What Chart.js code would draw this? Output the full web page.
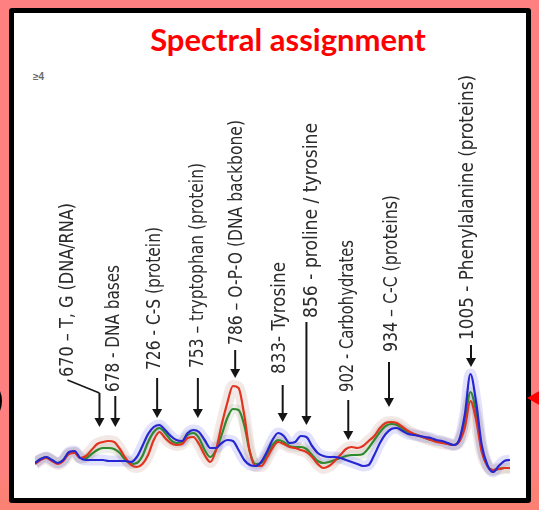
<!DOCTYPE html>
<html lang="en">
<head>
  <meta charset="UTF-8" />
  <title>Spectral assignment</title>
  <style>
    html, body {
      margin: 0;
      padding: 0;
      width: 539px;
      height: 510px;
      overflow: hidden;
      background: linear-gradient(#ff8080 0, #ff8080 470px, #fb8175 490px, #fb8175 510px);
      font-family: Lato, Arial, sans-serif;
    }
    .frame {
      position: absolute;
      left: 9px;
      top: 8px;
      width: 522px;
      height: 495px;
      box-sizing: border-box;
      border: 5px solid #000;
      border-radius: 3px;
      background: #fff;
    }
    .title {
      position: absolute;
      left: 288px;
      top: 21px;
      transform: translateX(-50%);
      white-space: nowrap;
      color: #ff0000;
      font-weight: bold;
      font-size: 31px;
      line-height: 37px;
    }
    .corner-note {
      position: absolute;
      left: 33px;
      top: 71px;
      font: bold 10px "Liberation Sans", Arial, sans-serif;
      color: #6a6a6a;
    }
    .paren {
      position: absolute;
      left: -22px;
      top: 383px;
      width: 24px;
      height: 36px;
      box-sizing: border-box;
      border-right: 3px solid #000;
      border-radius: 50%;
    }
    .pointer {
      position: absolute;
      left: 527px;
      top: 390px;
      width: 0;
      height: 0;
      border-top: 8px solid transparent;
      border-bottom: 8px solid transparent;
      border-right: 14px solid #ff0000;
    }
    #spectra {
      position: absolute;
      left: 0;
      top: 0;
    }
  </style>
  <script src="https://cdn.jsdelivr.net/npm/chart.js"></script>
</head>
<body>
  <div class="frame"></div>
  <div class="paren"></div>
  <div class="pointer"></div>
  <div class="title">Spectral assignment</div>
  <div class="corner-note">≥4</div>
  <canvas id="spectra" width="539" height="510"></canvas>

  <script>
    // Raman shift (cm-1)
    const wavenumbers = [
      620, 625, 630, 635, 640, 645, 650, 655, 660, 665,
      670, 675, 680, 685, 690, 695, 700, 705, 710, 715,
      720, 725, 730, 735, 740, 745, 750, 755, 760, 765,
      770, 775, 780, 785, 790, 795, 800, 805, 810, 815,
      820, 825, 830, 835, 840, 845, 850, 855, 860, 865,
      870, 875, 880, 885, 890, 895, 900, 905, 910, 915,
      920, 925, 930, 935, 940, 945, 950, 955, 960, 965,
      970, 975, 980, 985, 990, 995, 1000, 1005, 1010, 1015,
      1020, 1025, 1030, 1035, 1040
    ];

    // mean intensities (a.u.)
    const blueSeries = [
      0.17, 0.21, 0.23, 0.20, 0.17, 0.20, 0.28, 0.29, 0.22, 0.20,
      0.20, 0.20, 0.20, 0.19, 0.19, 0.19, 0.19, 0.18, 0.23, 0.34,
      0.46, 0.53, 0.55, 0.50, 0.44, 0.40, 0.39, 0.47, 0.50, 0.48,
      0.40, 0.32, 0.32, 0.37, 0.40, 0.39, 0.30, 0.20, 0.15, 0.14,
      0.18, 0.28, 0.40, 0.47, 0.44, 0.37, 0.38, 0.44, 0.43, 0.34,
      0.27, 0.24, 0.23, 0.23, 0.22, 0.20, 0.18, 0.16, 0.14, 0.15,
      0.25, 0.37, 0.46, 0.51, 0.52, 0.49, 0.46, 0.45, 0.44, 0.43,
      0.42, 0.40, 0.39, 0.37, 0.35, 0.40, 0.65, 1.06, 0.78, 0.35,
      0.15, 0.08, 0.14, 0.19, 0.20
    ];
    const redSeries = [
      0.16, 0.20, 0.22, 0.19, 0.16, 0.19, 0.26, 0.27, 0.22, 0.24,
      0.30, 0.36, 0.38, 0.39, 0.38, 0.31, 0.22, 0.15, 0.13, 0.16,
      0.25, 0.40, 0.48, 0.42, 0.37, 0.35, 0.36, 0.42, 0.43, 0.36,
      0.25, 0.18, 0.30, 0.55, 0.77, 0.94, 0.92, 0.65, 0.28, 0.14,
      0.14, 0.22, 0.32, 0.38, 0.36, 0.33, 0.32, 0.30, 0.28, 0.23,
      0.16, 0.12, 0.14, 0.19, 0.25, 0.31, 0.33, 0.32, 0.34, 0.39,
      0.44, 0.52, 0.57, 0.58, 0.57, 0.53, 0.49, 0.46, 0.44, 0.42,
      0.40, 0.38, 0.37, 0.36, 0.35, 0.38, 0.52, 0.79, 0.60, 0.28,
      0.14, 0.10, 0.11, 0.12, 0.12
    ];
    const greenSeries = [
      0.17, 0.21, 0.23, 0.20, 0.17, 0.20, 0.27, 0.28, 0.22, 0.22,
      0.26, 0.30, 0.32, 0.32, 0.31, 0.27, 0.20, 0.16, 0.17, 0.24,
      0.38, 0.48, 0.52, 0.47, 0.40, 0.37, 0.38, 0.45, 0.47, 0.42,
      0.30, 0.23, 0.30, 0.45, 0.62, 0.71, 0.70, 0.55, 0.28, 0.16,
      0.17, 0.25, 0.35, 0.40, 0.38, 0.34, 0.33, 0.33, 0.31, 0.25,
      0.19, 0.17, 0.18, 0.20, 0.22, 0.24, 0.25, 0.25, 0.26, 0.32,
      0.40, 0.48, 0.54, 0.56, 0.55, 0.51, 0.48, 0.46, 0.44, 0.42,
      0.40, 0.39, 0.38, 0.36, 0.35, 0.39, 0.58, 0.88, 0.68, 0.31,
      0.14, 0.10, 0.11, 0.12, 0.12
    ];

    // band assignments and where their arrows point (cm-1)
    const bandLabels = [
      "670 – T, G (DNA/RNA)",
      "678 - DNA bases",
      "726 - C-S (protein)",
      "753 – tryptophan (protein)",
      "786 – O-P-O (DNA backbone)",
      "833- Tyrosine",
      "856 - proline / tyrosine",
      "902 - Carbohydrates",
      "934 – C-C (proteins)",
      "1005 - Phenylalanine (proteins)"
    ];
    const bandArrowAt = [677, 691, 728, 764, 797, 839, 860, 897, 933, 1005.5];

    // label layout in px: text column offset from arrow, text bottom/top, arrow start/tip
    const labelLayout = [
      { dx: -32, bottom: 377, top: 203, from: 393, tip: 427, leader: true },
      { dx: -2, bottom: 392, top: 265, from: 396, tip: 427 },
      { dx: -2, bottom: 370, top: 227, from: 378, tip: 418 },
      { dx: 0, bottom: 368, top: 163, from: 378, tip: 418 },
      { dx: 2, bottom: 345, top: 120, from: 350, tip: 378 },
      { dx: -3, bottom: 374, top: 262, from: 385, tip: 422 },
      { dx: 5, bottom: 318, top: 123, from: 322, tip: 425 },
      { dx: 0, bottom: 392, top: 240, from: 400, tip: 440 },
      { dx: 3, bottom: 352, top: 195, from: 362, tip: 407 },
      { dx: -3, bottom: 340, top: 75, from: 345, tip: 367 }
    ];

    function toPoints(values) {
      return wavenumbers.map((w, i) => ({ x: w, y: values[i] }));
    }

    function drawArrow(ctx, x, y1, y2) {
      ctx.beginPath();
      ctx.moveTo(x, y1);
      ctx.lineTo(x, y2 - 7);
      ctx.stroke();
      ctx.beginPath();
      ctx.moveTo(x - 5, y2 - 9);
      ctx.lineTo(x + 5, y2 - 9);
      ctx.lineTo(x, y2);
      ctx.closePath();
      ctx.fill();
    }

    const bandAnnotations = {
      id: "bandAnnotations",
      afterDatasetsDraw(chart) {
        const ctx = chart.ctx;
        const xs = chart.scales.x;
        ctx.save();
        ctx.strokeStyle = "#151515";
        ctx.fillStyle = "#151515";
        ctx.lineWidth = 2;
        bandLabels.forEach((text, i) => {
          const lay = labelLayout[i];
          const ax = xs.getPixelForValue(bandArrowAt[i]);
          const tx = ax + lay.dx;

          // rotated label, reading bottom to top, squeezed to its span
          ctx.save();
          ctx.fillStyle = "#2b2b2b";
          ctx.font = '20px "Liberation Sans Narrow", "DejaVu Sans Condensed", "Liberation Sans", sans-serif';
          ctx.textAlign = "left";
          ctx.textBaseline = "middle";
          const w = ctx.measureText(text).width;
          ctx.translate(tx, lay.bottom);
          ctx.rotate(-Math.PI / 2);
          ctx.scale((lay.bottom - lay.top) / w, 1);
          ctx.fillText(text, 0, 0);
          ctx.restore();

          if (lay.leader) {
            ctx.beginPath();
            ctx.moveTo(tx, lay.bottom + 3);
            ctx.lineTo(ax, lay.from);
            ctx.lineWidth = 1.5;
            ctx.stroke();
            ctx.lineWidth = 2;
          }
          drawArrow(ctx, ax, lay.from, lay.tip);
        });
        ctx.restore();
      }
    };

    const lineStyle = {
      pointRadius: 0,
      fill: false,
      cubicInterpolationMode: "monotone"
    };

    const ctx = document.getElementById("spectra").getContext("2d");
    new Chart(ctx, {
      type: "line",
      data: {
        datasets: [
          Object.assign({ label: "blue", data: toPoints(blueSeries), borderColor: "#2626d2", borderWidth: 2.2 }, lineStyle),
          Object.assign({ label: "red", data: toPoints(redSeries), borderColor: "#e2331f", borderWidth: 2.2 }, lineStyle),
          Object.assign({ label: "green", data: toPoints(greenSeries), borderColor: "#2f8a2f", borderWidth: 2.2 }, lineStyle),
          Object.assign({ label: "blue sd", data: toPoints(blueSeries), borderColor: "rgba(110,110,240,0.2)", borderWidth: 11 }, lineStyle),
          Object.assign({ label: "red sd", data: toPoints(redSeries), borderColor: "rgba(190,140,130,0.2)", borderWidth: 12 }, lineStyle),
          Object.assign({ label: "green sd", data: toPoints(greenSeries), borderColor: "rgba(150,160,130,0.18)", borderWidth: 10 }, lineStyle)
        ]
      },
      options: {
        responsive: false,
        animation: false,
        devicePixelRatio: 1,
        layout: { padding: { left: 35, right: 29, top: 80, bottom: 30 } },
        plugins: {
          legend: { display: false },
          tooltip: { enabled: false },
          title: { display: false }
        },
        scales: {
          x: { type: "linear", min: 620, max: 1040, display: false },
          y: { min: 0, max: 4, display: false }
        }
      },
      plugins: [bandAnnotations]
    });
  </script>
</body>
</html>
